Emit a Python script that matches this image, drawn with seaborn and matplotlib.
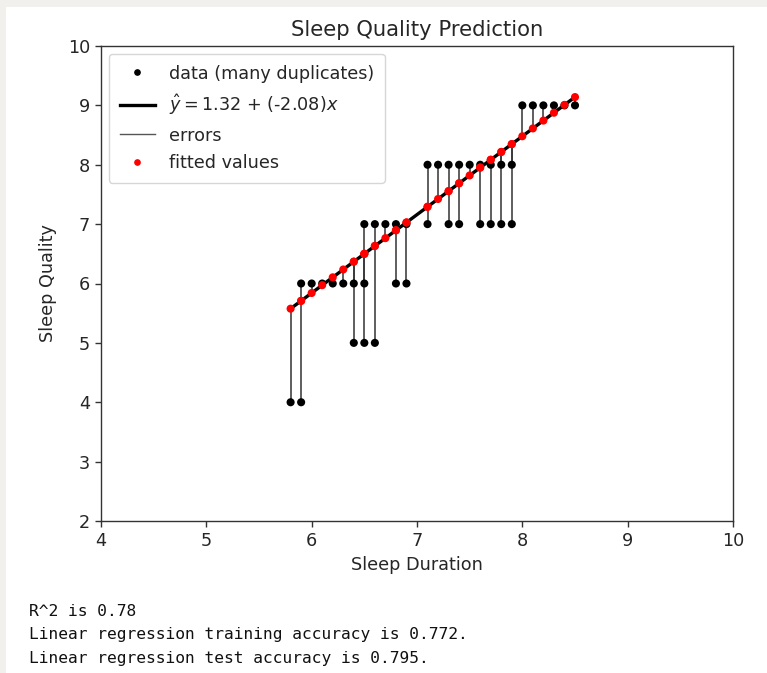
import matplotlib
matplotlib.use("Agg")
import matplotlib.pyplot as plt
from matplotlib.patches import Rectangle
from matplotlib.lines import Line2D
import numpy as np
import pandas as pd
import seaborn as sns

# Observations (sleep duration in hours, sleep quality score)
sleep_duration = [5.8, 5.9, 5.9, 6.0, 6.1, 6.2, 6.3, 6.4, 6.4, 6.5, 6.5, 6.5,
                  6.6, 6.6, 6.7, 6.8, 6.8, 6.9, 6.9, 7.1, 7.1, 7.2, 7.3, 7.3,
                  7.4, 7.4, 7.5, 7.6, 7.6, 7.7, 7.7, 7.8, 7.8, 7.9, 7.9, 8.0,
                  8.1, 8.2, 8.3, 8.4, 8.5]
sleep_quality = [4, 4, 6, 6, 6, 6, 6, 6, 5, 7, 6, 5,
                 7, 5, 7, 7, 6, 7, 6, 8, 7, 8, 8, 7,
                 8, 7, 8, 8, 7, 8, 7, 8, 7, 8, 7, 9,
                 9, 9, 9, 9, 9]

# Fitted model coefficients
slope = 1.32
intercept = -2.08

report_lines = [
    "R^2 is 0.78",
    "Linear regression training accuracy is 0.772.",
    "Linear regression test accuracy is 0.795.",
]

df = pd.DataFrame({"Sleep Duration": sleep_duration, "Sleep Quality": sleep_quality})
df["fitted"] = intercept + slope * df["Sleep Duration"]

fig = plt.figure(figsize=(7.67, 6.73), dpi=100)
fig.patch.set_facecolor("#f2f0ec")
fig.add_artist(Rectangle((6 / 767, 0), 1, 1 - 7 / 673, transform=fig.transFigure,
                         facecolor="white", edgecolor="none", zorder=-1))

ax = fig.add_axes([101 / 767, 1 - 521 / 673, (733 - 101) / 767, (521 - 46) / 673])

FS = 12.7
TXT = "#262626"
eq_label = r"$\hat{y} = $" + f"{slope:.2f} + ({intercept:.2f})" + r"$x$"

sns.scatterplot(data=df, x="Sleep Duration", y="Sleep Quality", ax=ax,
                color="black", s=34, edgecolor="none", zorder=3, legend=False)

line_df = pd.DataFrame({"x": [df["Sleep Duration"].min(), df["Sleep Duration"].max()]})
line_df["y"] = intercept + slope * line_df["x"]
sns.lineplot(data=line_df, x="x", y="y", ax=ax, color="black", linewidth=2.4,
             zorder=2, legend=False)

ax.vlines(df["Sleep Duration"], df["Sleep Quality"], df["fitted"],
          colors="#333333", linewidth=1.1, zorder=1)

sns.scatterplot(data=df, x="Sleep Duration", y="fitted", ax=ax,
                color="red", s=34, edgecolor="none", zorder=4, legend=False)

ax.set_xlim(4, 10)
ax.set_ylim(2, 10)
ax.set_xticks(range(4, 11))
ax.set_yticks(range(2, 11))
ax.tick_params(labelsize=FS, length=4.5, width=1.0, color="#333333", labelcolor=TXT)
for sp in ax.spines.values():
    sp.set_color("#333333")
    sp.set_linewidth(1.0)
ax.set_xlabel("Sleep Duration", fontsize=FS, color=TXT, labelpad=4.5)
ax.set_ylabel("Sleep Quality", fontsize=FS, color=TXT, labelpad=8)
ax.set_title("Sleep Quality Prediction", fontsize=15.2, color=TXT, pad=7)

handles = [
    Line2D([], [], linestyle="none", marker="o", markersize=3.8, color="black"),
    Line2D([], [], color="black", linewidth=2.4),
    Line2D([], [], color="#555555", linewidth=1.0),
    Line2D([], [], linestyle="none", marker="o", markersize=3.8, color="red"),
]
labels = ["data (many duplicates)", eq_label, "errors", "fitted values"]
ax.legend(handles, labels, loc="upper left", fontsize=FS, frameon=True,
          handlelength=2.0, labelcolor=TXT, borderpad=0.6, labelspacing=0.55,
          borderaxespad=0.45)

for i, txt in enumerate(report_lines):
    fig.text(29 / 767, 1 - (612 + 23 * i) / 673, txt, fontsize=11.7,
             family="DejaVu Sans Mono", va="center", ha="left", color="#111111")

fig.savefig("out.png", dpi=100)
